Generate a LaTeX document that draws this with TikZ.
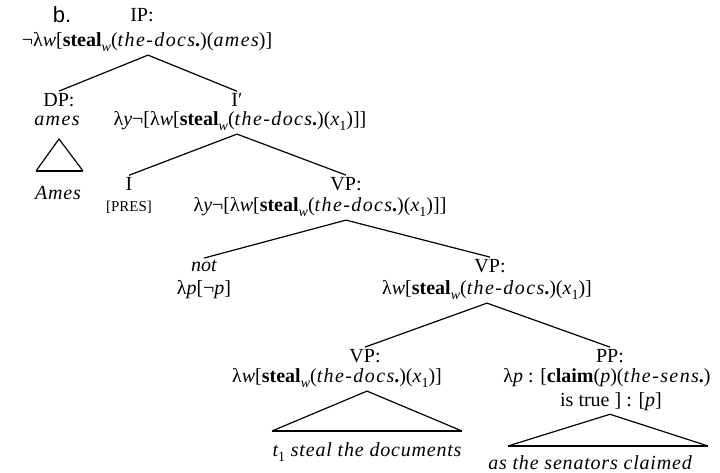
\documentclass[tikz,border=0pt]{standalone}
\usepackage{fontspec}
\setmainfont{Liberation Serif}
\newfontfamily\labelsans{Liberation Sans}
\newfontfamily\mif[LetterSpace=7]{Liberation Serif}
\newfontfamily\leaffont[LetterSpace=4]{Liberation Serif}
\usetikzlibrary{calc}
\newcommand{\fs}{\fontsize{20}{22}\selectfont}
\newcommand{\mi}[1]{{\mif\itshape #1}}
\newcommand{\sub}[1]{\raisebox{-0.28em}{\fontsize{14}{14}\selectfont #1}}
\newcommand{\stealw}{\textbf{steal}\sub{\mi{w}}}
\newcommand{\docs}{(\mi{the-docs}\textbf{.})}
\begin{document}
\begin{tikzpicture}[x=1pt,y=-1pt,
  every node/.style={inner sep=0pt,font=\fs},
  cat/.style={inner sep=2pt},
  leaf/.style={font=\fs\leaffont\itshape},
  edge/.style={line width=1.2pt},
  tri/.style={line width=1.2pt},
  base/.style={line width=2.6pt}]
\useasboundingbox (0,0) rectangle (720,473);
% header
\node (blab) at (62,15) {\fontsize{22}{24}\selectfont\labelsans b.};
\node[cat] (ip) at (142,15) {IP:};
\node (ipf) at (147,42) {¬λ\mi{w}[\stealw\docs(\mi{ames})]};
% DP
\node[cat] (dp) at (59,100) {DP:};
\node (dpf) at (57,121) {\mi{ames}};
\coordinate (dpapex) at (59,139);
\coordinate (dpl) at (36,171);
\coordinate (dpr) at (83,171);
\node[leaf] (ames) at (58,193) {Ames};
% I'
\node[cat] (ibar) at (237,100) {I′};
\node (ibarf) at (240,121) {λ\mi{y}¬[λ\mi{w}[\stealw\docs(\mi{x}\sub{1})]]};
% I
\node[cat] (i) at (129,184) {I};
\node (pres) at (129,207) {\fontsize{15}{17}\selectfont [PRES]};
% VP1
\node[cat] (vpa) at (346,184) {VP:};
\node (vpaf) at (320,207) {λ\mi{y}¬[λ\mi{w}[\stealw\docs(\mi{x}\sub{1})]]};
% not
\node[cat] (neg) at (204,266) {\itshape not};
\node (negf) at (204,290) {λ\mi{p}[¬\mi{p}]};
% VP2
\node[cat] (vpb) at (490,266) {VP:};
\node (vpbf) at (487,290) {λ\mi{w}[\stealw\docs(\mi{x}\sub{1})]};
% VP3
\node[cat] (vpc) at (365,356) {VP:};
\node (vpcf) at (337,378) {λ\mi{w}[\stealw\docs(\mi{x}\sub{1})]};
\coordinate (vpcl) at (272,431);
\coordinate (vpcr) at (462,431);
\node[leaf] (vpcleaf) at (367,452) {\mi{t}\sub{\upshape 1} steal the documents};
% PP
\node[cat] (pp) at (610,356) {PP:};
\node (ppf) at (607,378) {λ\mi{p} : [\textbf{claim}(\mi{p})(\mi{the-sens}\textbf{.})};
\node (ppg) at (611,402) {is true ] : [\mi{p}]};
\coordinate (ppl) at (508,446);
\coordinate (ppr) at (708,446);
\node[leaf] (ppleaf) at (590,463) {as the senators claimed};
% edges
\coordinate (ipapex) at ($(ip |- ipf.south)+(6,3)$);
\draw[edge] (ipapex) -- (dp.north);
\draw[edge] (ipapex) -- (ibar.north);
\coordinate (ibarapex) at ($(ibar |- ibarf.south)+(0,3)$);
\draw[edge] (ibarapex) -- (i.north);
\draw[edge] (ibarapex) -- (vpa.north);
\coordinate (vpaapex) at ($(vpa |- vpaf.south)+(0,3)$);
\draw[edge] (vpaapex) -- (neg.north);
\draw[edge] (vpaapex) -- (vpb.north);
\coordinate (vpbapex) at ($(vpb |- vpbf.south)+(-3,3)$);
\draw[edge] (vpbapex) -- (vpc.north);
\draw[edge] (vpbapex) -- (pp.north);
% triangles
\draw[tri] (dpl) -- (dpapex) -- (dpr);
\draw[base] (dpl) -- (dpr);
\coordinate (vpcapex) at ($(vpc |- vpcf.south)+(2,3)$);
\draw[tri] (vpcl) -- (vpcapex) -- (vpcr);
\draw[base] (vpcl) -- (vpcr);
\coordinate (ppapex) at ($(pp |- ppg.south)+(0,3)$);
\draw[tri] (ppl) -- (ppapex) -- (ppr);
\draw[base] (ppl) -- (ppr);
\end{tikzpicture}
\end{document}
